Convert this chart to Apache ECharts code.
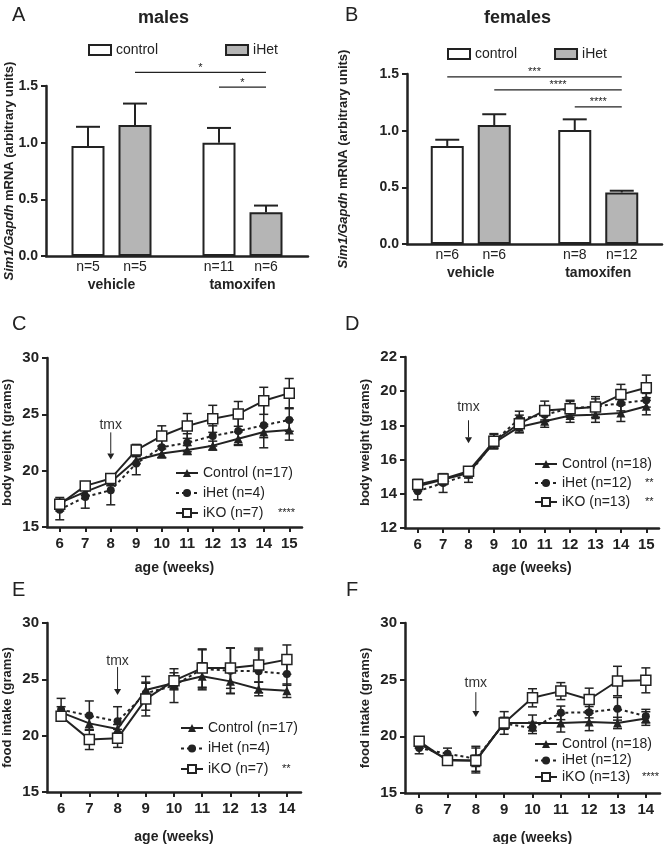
<!DOCTYPE html>
<html><head><meta charset="utf-8">
<script src="https://cdn.jsdelivr.net/npm/echarts@6/dist/echarts.min.js"></script>
<style>html,body{margin:0;padding:0;background:#fff}#c{width:664px;height:844px}</style>
</head><body><div id="c"></div>
<script>
// ---------------- DATA ----------------
const barGroups = ['vehicle', 'tamoxifen'];

// A: males Sim1/Gapdh
const maleControl = [0.97, 1.00];
const maleControlErr = [0.17, 0.13];
const maleIHet = [1.155, 0.385];
const maleIHetErr = [0.19, 0.06];
const maleNControl = ['n=5', 'n=11'];
const maleNIHet = ['n=5', 'n=6'];
// significance brackets: [fromBar, toBar, y]
const maleSig = [[1, 3, 1.62], [2, 3, 1.49]];
const maleSigText = ['*', '*'];

// B: females Sim1/Gapdh
const femControl = [0.865, 1.005];
const femControlErr = [0.055, 0.095];
const femIHet = [1.05, 0.455];
const femIHetErr = [0.095, 0.015];
const femNControl = ['n=6', 'n=8'];
const femNIHet = ['n=6', 'n=12'];
const femSig = [[0, 3, 1.475], [1, 3, 1.36], [2, 3, 1.21]];
const femSigText = ['***', '****', '****'];

const weeksBW = ['6', '7', '8', '9', '10', '11', '12', '13', '14', '15'];
const weeksFI = ['6', '7', '8', '9', '10', '11', '12', '13', '14'];

// C: male body weight
const maleBWControl = [17.14, 18.12, 19.0, 20.94, 21.53, 21.83, 22.22, 22.84, 23.43, 23.61];
const maleBWControlErr = [0.3, 0.3, 0.3, 0.3, 0.4, 0.4, 0.4, 0.6, 0.5, 0.9];
const maleBWiHet = [16.54, 17.67, 18.27, 20.64, 22.07, 22.48, 23.08, 23.52, 24.03, 24.5];
const maleBWiHetErr = [0.9, 1.0, 1.3, 1.0, 0.9, 0.8, 0.9, 1.2, 2.0, 1.0];
const maleBWiKO = [17.02, 18.65, 19.3, 21.83, 23.08, 23.97, 24.6, 25.04, 26.2, 26.88];
const maleBWiKOErr = [0.6, 0.25, 0.25, 0.5, 0.9, 1.1, 1.2, 1.1, 1.2, 1.3];

// D: female body weight
const femBWControl = [14.44, 14.83, 15.22, 16.98, 17.91, 18.24, 18.58, 18.63, 18.73, 19.12];
const femBWControlErr = [0.3, 0.3, 0.3, 0.3, 0.35, 0.35, 0.4, 0.45, 0.5, 0.5];
const femBWiHet = [14.15, 14.63, 15.12, 17.07, 18.38, 18.63, 19.0, 19.1, 19.3, 19.47];
const femBWiHetErr = [0.5, 0.55, 0.45, 0.4, 0.45, 0.4, 0.4, 0.45, 0.45, 0.4];
const femBWiKO = [14.54, 14.87, 15.32, 17.07, 18.1, 18.87, 18.97, 19.08, 19.8, 20.2];
const femBWiKOErr = [0.3, 0.3, 0.25, 0.45, 0.5, 0.55, 0.5, 0.6, 0.6, 0.74];

// E: male food intake
const maleFIControl = [22.07, 21.09, 20.59, 24.05, 24.67, 25.27, 24.82, 24.14, 23.99];
const maleFIControlErr = [0.5, 0.6, 0.4, 0.6, 0.6, 1.2, 1.1, 0.6, 0.6];
const maleFIiHet = [22.31, 21.78, 21.27, 23.76, 24.44, 25.92, 25.77, 25.71, 25.47];
const maleFIiHetErr = [1.0, 1.3, 1.3, 1.5, 1.5, 1.7, 2.0, 1.9, 1.0];
const maleFIiKO = [21.72, 19.67, 19.76, 23.25, 24.88, 26.0, 26.0, 26.27, 26.75];
const maleFIiKOErr = [0.4, 0.9, 0.8, 1.5, 0.7, 1.7, 1.8, 1.5, 1.3];

// F: female food intake
const femFIControl = [19.35, 17.93, 17.84, 21.18, 21.18, 21.18, 21.27, 21.18, 21.57];
const femFIControlErr = [0.4, 0.3, 0.5, 0.5, 0.7, 0.8, 0.77, 0.5, 0.6];
const femFIiHet = [18.96, 18.46, 18.02, 21.12, 20.74, 22.07, 22.13, 22.43, 21.78];
const femFIiHetErr = [0.5, 0.5, 1.1, 0.5, 0.5, 0.6, 0.5, 1.0, 0.6];
const femFIiKO = [19.56, 17.87, 17.87, 21.18, 23.4, 23.99, 23.25, 24.88, 24.94];
const femFIiKOErr = [0.4, 0.3, 1.1, 1.0, 0.8, 0.75, 1.0, 1.3, 1.1];

// legend names and significance
const maleNames = ['Control (n=17)', 'iHet (n=4)', 'iKO (n=7)'];
const femNames = ['Control (n=18)', 'iHet (n=12)', 'iKO (n=13)'];
const sigC = ['', '', '****'];
const sigD = ['', '**', '**'];
const sigE = ['', '', '**'];
const sigF = ['', '', '****'];

// tmx arrow: [week index, arrow top value, arrow tip value, label value]
const tmxC = [2, 23.4, 21.0, 24.0];
const tmxD = [2, 18.3, 16.95, 19.05];
const tmxE = [2, 26.1, 23.6, 26.65];
const tmxF = [2, 23.9, 21.7, 24.7];

// ---------------- STYLE / BUILD ----------------
const FONT = "'Liberation Sans', Arial, Helvetica, sans-serif";
const INK = '#222';
const BAR_W = 33, BAR_GAP = 14, HALF = (BAR_W + BAR_GAP) / 2;

const grids = [
  {left: 46, top: 86, width: 262, height: 170},
  {left: 407, top: 74, width: 255, height: 170},
  {left: 47, top: 358, width: 255, height: 169},
  {left: 405, top: 357, width: 254, height: 171},
  {left: 47, top: 623, width: 254, height: 169},
  {left: 405, top: 623, width: 255, height: 170}
].map(g => Object.assign({outerBoundsMode: 'none', containLabel: false}, g));

const axisLine = {show: true, lineStyle: {color: INK, width: 2.5}};
const tickLabel = (size) => ({color: INK, fontFamily: FONT, fontWeight: 'bold', fontSize: size});

const xAxes = [], yAxes = [], series = [];

function yNameStyle(gap) {
  return {nameLocation: 'middle', nameGap: gap, nameRotate: 90, nameMoveOverlap: false,
    nameTextStyle: {color: INK, fontFamily: FONT, fontWeight: 'bold', fontSize: 13,
      rich: {i: {fontStyle: 'italic', fontWeight: 'bold', fontSize: 13, fontFamily: FONT, color: INK}}}};
}

function barPanel(gi, ctrl, ctrlErr, het, hetErr, nC, nH, sig, sigText, yGap) {
  xAxes.push({type: 'category', gridIndex: gi, data: barGroups, axisLine,
    axisTick: {show: false}, axisLabel: Object.assign(tickLabel(14), {margin: 22}), splitLine: {show: false}});
  yAxes.push(Object.assign({type: 'value', gridIndex: gi, min: 0, max: 1.5, interval: 0.5, axisLine,
    axisTick: {show: true, length: 5, lineStyle: {color: INK, width: 2}},
    axisLabel: Object.assign(tickLabel(14), {margin: 8, formatter: v => v.toFixed(1)}),
    splitLine: {show: false},
    name: '{i|Sim1/Gapdh} mRNA (arbitrary units)'}, yNameStyle(yGap)));
  const lbl = arr => ({show: true, position: 'insideBottom', offset: [0, 23], color: INK,
    fontFamily: FONT, fontSize: 14, formatter: p => arr[p.dataIndex]});
  series.push({type: 'bar', name: 'control', xAxisIndex: gi, yAxisIndex: gi, data: ctrl,
    barWidth: BAR_W, barGap: (BAR_GAP / BAR_W * 100) + '%',
    itemStyle: {color: '#ffffff', borderColor: INK, borderWidth: 2}, label: lbl(nC), z: 2});
  series.push({type: 'bar', name: 'iHet', xAxisIndex: gi, yAxisIndex: gi, data: het,
    barWidth: BAR_W, itemStyle: {color: '#b5b5b5', borderColor: INK, borderWidth: 2}, label: lbl(nH), z: 2});
  const errSeries = (vals, errs, off) => ({
    type: 'custom', xAxisIndex: gi, yAxisIndex: gi, z: 1, silent: true,
    data: vals.map((v, i) => [i, v, errs[i]]), encode: {x: 0, y: 1},
    renderItem: (params, api) => {
      const i = api.value(0), m = api.value(1), e = api.value(2);
      const b = api.coord([i, m]), t = api.coord([i, m + e]);
      const x = b[0] + off;
      return {type: 'group', children: [
        {type: 'line', shape: {x1: x, y1: b[1], x2: x, y2: t[1]}, style: {stroke: INK, lineWidth: 2}},
        {type: 'line', shape: {x1: x - 12, y1: t[1], x2: x + 12, y2: t[1]}, style: {stroke: INK, lineWidth: 2}}
      ]};
    }});
  series.push(errSeries(ctrl, ctrlErr, -HALF));
  series.push(errSeries(het, hetErr, HALF));
  series.push({type: 'custom', xAxisIndex: gi, yAxisIndex: gi, silent: true, clip: false,
    data: sig.map(s => [0, s[2], s[0], s[1]]), encode: {x: 0, y: 1},
    renderItem: (params, api) => {
      const y = api.value(1), from = api.value(2), to = api.value(3);
      const xOf = k => api.coord([Math.floor(k / 2), y])[0] + (k % 2 ? HALF : -HALF);
      const yy = api.coord([0, y])[1];
      const x1 = xOf(from), x2 = xOf(to);
      return {type: 'group', children: [
        {type: 'line', shape: {x1, y1: yy, x2, y2: yy}, style: {stroke: INK, lineWidth: 1.2}},
        {type: 'text', x: (x1 + x2) / 2, y: yy + 1, style: {text: sigText[params.dataIndex],
          font: `11px ${FONT}`, fill: INK, align: 'center', verticalAlign: 'bottom'}}
      ]};
    }});
}

function linePanel(gi, weeks, yMin, yMax, yInt, yName, names, d, tmx, xGap) {
  xAxes.push({type: 'category', gridIndex: gi, data: weeks, boundaryGap: true, axisLine,
    axisTick: {show: true, alignWithLabel: true, length: 5, lineStyle: {color: INK, width: 2}},
    axisLabel: Object.assign(tickLabel(15), {margin: 9}),
    name: 'age (weeks)', nameLocation: 'middle', nameGap: xGap, nameMoveOverlap: false,
    nameTextStyle: {color: INK, fontFamily: FONT, fontWeight: 'bold', fontSize: 14}});
  yAxes.push(Object.assign({type: 'value', gridIndex: gi, min: yMin, max: yMax, interval: yInt, axisLine,
    axisTick: {show: true, length: 5, lineStyle: {color: INK, width: 2}},
    axisLabel: Object.assign(tickLabel(15), {margin: 8}), splitLine: {show: false},
    name: yName}, yNameStyle(33)));
  const styles = [
    {symbol: 'triangle', symbolSize: 9, itemStyle: {color: INK}, lineStyle: {color: INK, width: 2, type: 'solid'}},
    {symbol: 'circle', symbolSize: 8, itemStyle: {color: INK}, lineStyle: {color: INK, width: 2, type: [3, 3]}},
    {symbol: 'rect', symbolSize: 10, itemStyle: {color: '#ffffff', borderColor: INK, borderWidth: 1.5}, lineStyle: {color: INK, width: 2, type: 'solid'}}
  ];
  d.forEach((pair, k) => {
    const [vals, errs] = pair;
    series.push({type: 'custom', xAxisIndex: gi, yAxisIndex: gi, z: 2, silent: true,
      data: vals.map((v, i) => [i, v, errs[i]]), encode: {x: 0, y: 1},
      renderItem: (params, api) => {
        const i = api.value(0), m = api.value(1), e = api.value(2);
        const t = api.coord([i, m + e]), b = api.coord([i, m - e]);
        const x = t[0], cw = 4.5, st = {stroke: INK, lineWidth: 1.5};
        return {type: 'group', children: [
          {type: 'line', shape: {x1: x, y1: t[1], x2: x, y2: b[1]}, style: st},
          {type: 'line', shape: {x1: x - cw, y1: t[1], x2: x + cw, y2: t[1]}, style: st},
          {type: 'line', shape: {x1: x - cw, y1: b[1], x2: x + cw, y2: b[1]}, style: st}
        ]};
      }});
  });
  d.forEach((pair, k) => {
    series.push(Object.assign({type: 'line', name: names[k], xAxisIndex: gi, yAxisIndex: gi,
      data: pair[0], showSymbol: true, z: 3 + k}, styles[k]));
  });
  series.push({type: 'custom', xAxisIndex: gi, yAxisIndex: gi, silent: true, z: 5,
    data: [tmx], encode: {x: 0, y: 1},
    renderItem: (params, api) => {
      const w = api.value(0);
      const top = api.coord([w, api.value(1)]), tip = api.coord([w, api.value(2)]), lab = api.coord([w, api.value(3)]);
      const h = 6, hw = 3.5;
      return {type: 'group', children: [
        {type: 'line', shape: {x1: top[0], y1: top[1], x2: tip[0], y2: tip[1] - h}, style: {stroke: INK, lineWidth: 1}},
        {type: 'polygon', shape: {points: [[tip[0] - hw, tip[1] - h], [tip[0] + hw, tip[1] - h], [tip[0], tip[1]]]}, style: {fill: INK}},
        {type: 'text', x: lab[0], y: lab[1], style: {text: 'tmx', font: `14px ${FONT}`, fill: '#333', align: 'center', verticalAlign: 'middle'}}
      ]};
    }});
}

barPanel(0, maleControl, maleControlErr, maleIHet, maleIHetErr, maleNControl, maleNIHet, maleSig, maleSigText, 30);
barPanel(1, femControl, femControlErr, femIHet, femIHetErr, femNControl, femNIHet, femSig, femSigText, 57);
linePanel(2, weeksBW, 15, 30, 5, 'body weight (grams)', maleNames,
  [[maleBWControl, maleBWControlErr], [maleBWiHet, maleBWiHetErr], [maleBWiKO, maleBWiKOErr]], tmxC, 34);
linePanel(3, weeksBW, 12, 22, 2, 'body weight (grams)', femNames,
  [[femBWControl, femBWControlErr], [femBWiHet, femBWiHetErr], [femBWiKO, femBWiKOErr]], tmxD, 33);
linePanel(4, weeksFI, 15, 30, 5, 'food intake (grams)', maleNames,
  [[maleFIControl, maleFIControlErr], [maleFIiHet, maleFIiHetErr], [maleFIiKO, maleFIiKOErr]], tmxE, 38);
linePanel(5, weeksFI, 15, 30, 5, 'food intake (grams)', femNames,
  [[femFIControl, femFIControlErr], [femFIiHet, femFIiHetErr], [femFIiKO, femFIiKOErr]], tmxF, 38);

const legText = {fontSize: 14, color: INK, fontFamily: FONT};
function lineLegend(names, sig, left, top, gap, nameW) {
  return {data: names, orient: 'vertical', left, top, itemGap: gap, itemWidth: 22, itemHeight: 10,
    selectedMode: false, padding: 0,
    formatter: n => { const k = names.indexOf(n); return sig[k] ? `{n|${n}}{s|${sig[k]}}` : n; },
    textStyle: Object.assign({}, legText, {rich: {
      n: {width: nameW, fontSize: 14, color: INK, fontFamily: FONT},
      s: {fontSize: 11, color: INK, fontFamily: FONT}}})};
}
const barLegend = (left, top, gap) => ({data: ['control', 'iHet'], left, top, itemGap: gap, icon: 'rect',
  itemWidth: 22, itemHeight: 10, selectedMode: false, padding: 0,
  itemStyle: {borderColor: INK, borderWidth: 2}, textStyle: legText});

const titleStyle = (size, bold) => ({fontSize: size, fontWeight: bold ? 'bold' : 'normal', color: INK, fontFamily: FONT});
const option = {
  animation: false,
  backgroundColor: '#ffffff',
  grid: grids,
  xAxis: xAxes,
  yAxis: yAxes,
  title: [
    {text: 'A', left: 12, top: 5, padding: 0, textStyle: titleStyle(20)},
    {text: 'males', left: 138, top: 9, padding: 0, textStyle: titleStyle(18, true)},
    {text: 'B', left: 345, top: 5, padding: 0, textStyle: titleStyle(20)},
    {text: 'females', left: 484, top: 9, padding: 0, textStyle: titleStyle(18, true)},
    {text: 'C', left: 12, top: 314, padding: 0, textStyle: titleStyle(20)},
    {text: 'D', left: 345, top: 314, padding: 0, textStyle: titleStyle(20)},
    {text: 'E', left: 12, top: 580, padding: 0, textStyle: titleStyle(20)},
    {text: 'F', left: 346, top: 580, padding: 0, textStyle: titleStyle(20)}
  ],
  legend: [
    barLegend(88, 43, 67),
    barLegend(447, 47, 37),
    lineLegend(maleNames, sigC, 175, 466, 6, 75),
    lineLegend(femNames, sigD, 534, 457, 5, 83),
    lineLegend(maleNames, sigE, 180, 721, 6.5, 74),
    lineLegend(femNames, sigF, 534, 737, 2.5, 80)
  ],
  series
};
const chart = echarts.init(document.getElementById('c'), null, {renderer: 'canvas'});
chart.setOption(option);
</script>
</body></html>
